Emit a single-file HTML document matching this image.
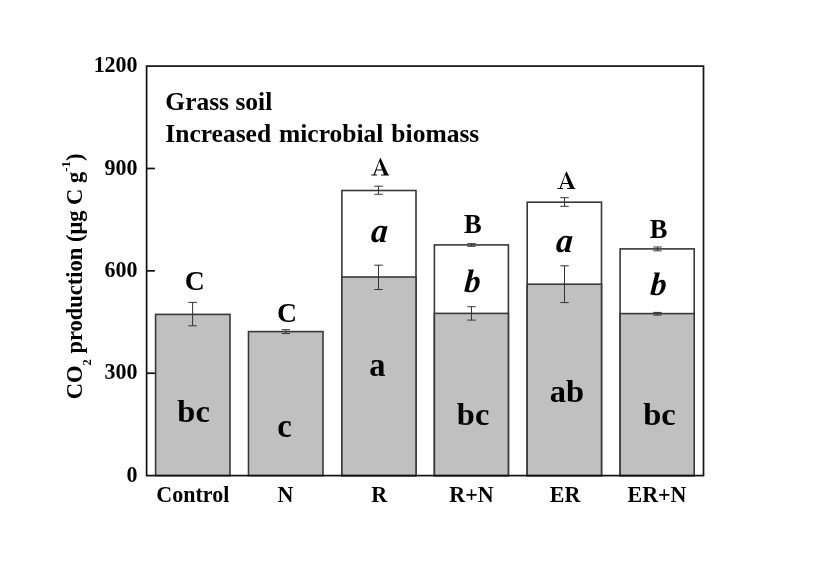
<!DOCTYPE html>
<html><head><meta charset="utf-8"><title>CO2 production chart</title>
<style>html,body{margin:0;padding:0;background:#fff;width:817px;height:570px;overflow:hidden}svg{display:block;filter:grayscale(1)}</style>
</head><body>
<svg width="817" height="570" viewBox="0 0 817 570">
<rect x="0" y="0" width="817" height="570" fill="#fff"/>
<rect x="155.60" y="314.40" width="74.40" height="161.20" fill="#c0c0c0" stroke="#383838" stroke-width="1.6"/>
<rect x="248.50" y="331.60" width="74.50" height="144.00" fill="#c0c0c0" stroke="#383838" stroke-width="1.6"/>
<rect x="341.90" y="190.50" width="74.10" height="285.10" fill="#fff" stroke="#383838" stroke-width="1.6"/>
<rect x="341.90" y="277.00" width="74.10" height="198.60" fill="#c0c0c0" stroke="#383838" stroke-width="1.6"/>
<rect x="434.40" y="244.90" width="74.00" height="230.70" fill="#fff" stroke="#383838" stroke-width="1.6"/>
<rect x="434.40" y="313.40" width="74.00" height="162.20" fill="#c0c0c0" stroke="#383838" stroke-width="1.6"/>
<rect x="527.20" y="202.20" width="74.30" height="273.40" fill="#fff" stroke="#383838" stroke-width="1.6"/>
<rect x="527.20" y="284.20" width="74.30" height="191.40" fill="#c0c0c0" stroke="#383838" stroke-width="1.6"/>
<rect x="620.10" y="248.90" width="74.10" height="226.70" fill="#fff" stroke="#383838" stroke-width="1.6"/>
<rect x="620.10" y="313.60" width="74.10" height="162.00" fill="#c0c0c0" stroke="#383838" stroke-width="1.6"/>
<path d="M192.60 302.40V325.80M188.40 302.40H196.80M188.40 325.80H196.80" stroke="#333" stroke-width="1.0" fill="none"/>
<path d="M285.90 329.70V333.60M281.70 329.70H290.10M281.70 333.60H290.10" stroke="#333" stroke-width="1.0" fill="none"/>
<path d="M378.50 265.20V289.50M374.30 265.20H382.70M374.30 289.50H382.70" stroke="#333" stroke-width="1.0" fill="none"/>
<path d="M378.50 186.20V194.30M374.30 186.20H382.70M374.30 194.30H382.70" stroke="#333" stroke-width="1.0" fill="none"/>
<path d="M471.50 306.70V320.10M467.30 306.70H475.70M467.30 320.10H475.70" stroke="#333" stroke-width="1.0" fill="none"/>
<path d="M471.50 243.70V246.30M467.30 243.70H475.70M467.30 246.30H475.70" stroke="#333" stroke-width="1.0" fill="none"/>
<path d="M564.50 265.80V302.60M560.30 265.80H568.70M560.30 302.60H568.70" stroke="#333" stroke-width="1.0" fill="none"/>
<path d="M564.50 197.70V206.30M560.30 197.70H568.70M560.30 206.30H568.70" stroke="#333" stroke-width="1.0" fill="none"/>
<path d="M657.50 312.40V315.10M653.30 312.40H661.70M653.30 315.10H661.70" stroke="#333" stroke-width="1.0" fill="none"/>
<path d="M657.50 247.00V250.80M653.30 247.00H661.70M653.30 250.80H661.70" stroke="#333" stroke-width="1.0" fill="none"/>
<rect x="146.60" y="66.10" width="556.90" height="409.50" fill="none" stroke="#111" stroke-width="1.7"/>
<line x1="146.60" y1="373.23" x2="154.90" y2="373.23" stroke="#111" stroke-width="1.7"/>
<line x1="146.60" y1="270.85" x2="154.90" y2="270.85" stroke="#111" stroke-width="1.7"/>
<line x1="146.60" y1="168.48" x2="154.90" y2="168.48" stroke="#111" stroke-width="1.7"/>
<text transform="translate(194.80 290.40) scale(1.045 1.0)" x="0" y="0" font-size="26.5" text-anchor="middle" font-family="'Liberation Serif', serif" font-weight="bold" fill="#000">C</text>
<text transform="translate(287.00 322.20) scale(1.045 1.0)" x="0" y="0" font-size="26.5" text-anchor="middle" font-family="'Liberation Serif', serif" font-weight="bold" fill="#000">C</text>
<path transform="translate(0 0)" d="M380.5 157.8L388.2 174.4L389.2 174.5L389.2 175.4L381.1 175.4L381.1 174.5L383.9 174.4L382.5 170.5L376.3 170.5L375.0 174.4L376.9 174.5L376.9 175.4L371.3 175.4L371.3 174.5L373.6 174.4L379.6 159.2ZM379.3 161.4L382.0 169.4L376.6 169.4Z" fill="#000" fill-rule="evenodd"/>
<text x="472.80" y="233.00" font-size="26.5" text-anchor="middle" font-family="'Liberation Serif', serif" font-weight="bold" fill="#000">B</text>
<path transform="translate(186.1 13.5)" d="M380.5 157.8L388.2 174.4L389.2 174.5L389.2 175.4L381.1 175.4L381.1 174.5L383.9 174.4L382.5 170.5L376.3 170.5L375.0 174.4L376.9 174.5L376.9 175.4L371.3 175.4L371.3 174.5L373.6 174.4L379.6 159.2ZM379.3 161.4L382.0 169.4L376.6 169.4Z" fill="#000" fill-rule="evenodd"/>
<text x="658.50" y="238.10" font-size="26.5" text-anchor="middle" font-family="'Liberation Serif', serif" font-weight="bold" fill="#000">B</text>
<text transform="translate(137.60 481.70) scale(1.0 1.035)" x="0" y="0" font-size="22" text-anchor="end" font-family="'Liberation Serif', serif" font-weight="bold" fill="#000">0</text>
<text transform="translate(137.60 379.33) scale(1.0 1.035)" x="0" y="0" font-size="22" text-anchor="end" font-family="'Liberation Serif', serif" font-weight="bold" fill="#000">300</text>
<text transform="translate(137.60 276.95) scale(1.0 1.035)" x="0" y="0" font-size="22" text-anchor="end" font-family="'Liberation Serif', serif" font-weight="bold" fill="#000">600</text>
<text transform="translate(137.60 174.58) scale(1.0 1.035)" x="0" y="0" font-size="22" text-anchor="end" font-family="'Liberation Serif', serif" font-weight="bold" fill="#000">900</text>
<text transform="translate(137.60 72.20) scale(1.0 1.035)" x="0" y="0" font-size="22" text-anchor="end" font-family="'Liberation Serif', serif" font-weight="bold" fill="#000">1200</text>
<text transform="translate(192.80 501.80) scale(1.0 1.025)" x="0" y="0" font-size="22" text-anchor="middle" font-family="'Liberation Serif', serif" font-weight="bold" fill="#000">Control</text>
<text transform="translate(285.50 501.80) scale(1.0 1.025)" x="0" y="0" font-size="22" text-anchor="middle" font-family="'Liberation Serif', serif" font-weight="bold" fill="#000">N</text>
<text transform="translate(379.10 501.80) scale(1.0 1.025)" x="0" y="0" font-size="22" text-anchor="middle" font-family="'Liberation Serif', serif" font-weight="bold" fill="#000">R</text>
<text transform="translate(471.50 501.80) scale(1.0 1.025)" x="0" y="0" font-size="22" text-anchor="middle" font-family="'Liberation Serif', serif" font-weight="bold" fill="#000">R+N</text>
<text transform="translate(565.10 501.80) scale(1.0 1.025)" x="0" y="0" font-size="22" text-anchor="middle" font-family="'Liberation Serif', serif" font-weight="bold" fill="#000">ER</text>
<text transform="translate(657.00 501.80) scale(1.0 1.025)" x="0" y="0" font-size="22" text-anchor="middle" font-family="'Liberation Serif', serif" font-weight="bold" fill="#000">ER+N</text>
<text x="193.60" y="421.70" font-size="32.5" text-anchor="middle" font-family="'Liberation Serif', serif" font-weight="bold" fill="#000">bc</text>
<text transform="translate(284.50 436.80) scale(1.0 1.04)" x="0" y="0" font-size="32.5" text-anchor="middle" font-family="'Liberation Serif', serif" font-weight="bold" fill="#000">c</text>
<text transform="translate(377.30 376.00) scale(1.0 1.04)" x="0" y="0" font-size="32.5" text-anchor="middle" font-family="'Liberation Serif', serif" font-weight="bold" fill="#000">a</text>
<text transform="translate(378.80 241.50) skewX(-4) scale(1.0 1.03)" x="0" y="0" font-size="33.5" text-anchor="middle" font-style="italic" font-family="'Liberation Serif', serif" font-weight="bold" fill="#000">a</text>
<text transform="translate(471.90 292.00) skewX(-4)" x="0" y="0" font-size="32.5" text-anchor="middle" font-style="italic" font-family="'Liberation Serif', serif" font-weight="bold" fill="#000">b</text>
<text x="473.10" y="424.70" font-size="32.5" text-anchor="middle" font-family="'Liberation Serif', serif" font-weight="bold" fill="#000">bc</text>
<text transform="translate(563.90 252.00) skewX(-4) scale(1.0 1.03)" x="0" y="0" font-size="33.5" text-anchor="middle" font-style="italic" font-family="'Liberation Serif', serif" font-weight="bold" fill="#000">a</text>
<text x="566.80" y="402.00" font-size="32.5" text-anchor="middle" font-family="'Liberation Serif', serif" font-weight="bold" fill="#000">ab</text>
<text transform="translate(657.90 295.00) skewX(-4)" x="0" y="0" font-size="32.5" text-anchor="middle" font-style="italic" font-family="'Liberation Serif', serif" font-weight="bold" fill="#000">b</text>
<text x="659.50" y="424.80" font-size="32.5" text-anchor="middle" font-family="'Liberation Serif', serif" font-weight="bold" fill="#000">bc</text>
<text x="165.3" y="110.0" font-size="25.5" font-family="'Liberation Serif', serif" font-weight="bold" fill="#000">Grass soil</text>
<text x="165.3" y="141.8" font-size="25.5" word-spacing="1.6" font-family="'Liberation Serif', serif" font-weight="bold" fill="#000">Increased microbial biomass</text>
<text transform="translate(82 399.2) rotate(-90)" x="0" y="0" font-size="22.5" font-family="'Liberation Serif', serif" font-weight="bold" fill="#000">CO<tspan font-size="12.5" dy="8.8">2</tspan><tspan dy="-8.8"> production (μg C g</tspan><tspan font-size="13" dy="-12.4">-1</tspan><tspan dy="12.4">)</tspan></text>
</svg>
</body></html>
